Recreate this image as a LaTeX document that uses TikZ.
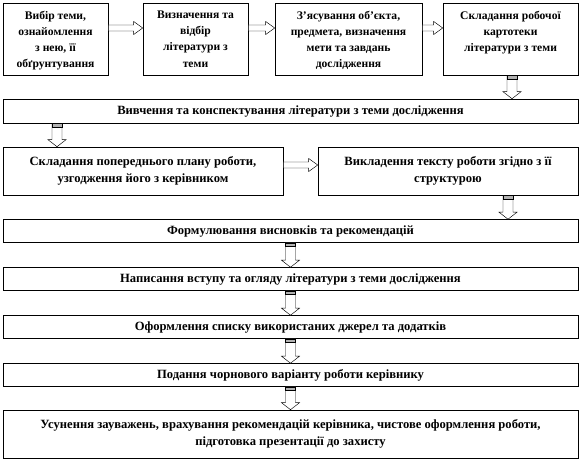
\documentclass[tikz,border=0pt]{standalone}
\usepackage{fontspec}
\setmainfont{Liberation Serif}
\usetikzlibrary{calc}
\tikzset{
  box/.style={draw=black, line width=0.6pt, fill=white, inner sep=0pt},
  txt/.style={font=\fontsize{12.6}{17}\selectfont\bfseries, align=center, inner sep=0pt},
  toptxt/.style={font=\fontsize{11.6}{16.2}\selectfont\bfseries, align=center, inner sep=0pt},
  blockarrow/.style={draw=black, line width=0.45pt, fill=white},
  capfill/.style={draw=black, line width=0.45pt, fill=gray!60},
}
\newcommand\myharrow[2]{%
  \draw[blockarrow] let \p1=(#1), \p2=(#2) in
    (\x1,\y1+3pt) -- (\x2-9pt,\y1+3pt) -- (\x2-9pt,\y1+6.5pt) -- (\x2,\y1)
    -- (\x2-9pt,\y1-6.5pt) -- (\x2-9pt,\y1-3pt) -- (\x1,\y1-3pt) -- cycle;}
\newcommand\myvarrow[2]{%
  \draw[blockarrow] let \p1=(#1), \p2=(#2) in
    (\x1-5pt,\y1) -- (\x1-5pt,\y2+7pt) -- (\x1-9pt,\y2+7pt) -- (\x1,\y2)
    -- (\x1+9pt,\y2+7pt) -- (\x1+5pt,\y2+7pt) -- (\x1+5pt,\y1) -- cycle;
  \draw[capfill] let \p1=(#1) in (\x1-5pt,\y1) rectangle (\x1+5pt,\y1-3.5pt);}
\begin{document}
\begin{tikzpicture}[x=1pt,y=-1pt]
\useasboundingbox (0,0) rectangle (580,462);
% row 1
\node[box, minimum width=105, minimum height=72] (b1) at (55.5,39) {};
\node[box, minimum width=105, minimum height=72] (b2) at (195.5,39) {};
\node[box, minimum width=147, minimum height=72] (b3) at (348.5,39) {};
\node[box, minimum width=135, minimum height=72] (b4) at (510.5,39) {};
\node[toptxt, anchor=north] (t1) at ([yshift=-8pt]b1.north) {Вибір теми,\\ознайомлення\\з нею, її\\обґрунтування};
\node[toptxt, anchor=north] (t2) at ([yshift=-8pt]b2.north) {Визначення та\\відбір\\літератури з\\теми};
\node[toptxt, anchor=north] (t3) at ([yshift=-8pt]b3.north) {З’ясування об’єкта,\\предмета, визначення\\мети та завдань\\дослідження};
\node[toptxt, anchor=north] (t4) at ([yshift=-8pt]b4.north) {Складання робочої\\картотеки\\літератури з теми};
% row 2
\node[box, txt, minimum width=575, minimum height=24] (b5) at (290.5,111) {Вивчення та конспектування літератури з теми дослідження};
% row 3
\node[box, txt, minimum width=280, minimum height=48] (b6) at (143,171) {Складання попереднього плану роботи,\\узгодження його з керівником};
\node[box, txt, minimum width=260, minimum height=48] (b7) at (448,171) {Викладення тексту роботи згідно з її\\структурою};
% lower rows
\node[box, txt, minimum width=575, minimum height=23] (b8) at (290.5,231) {Формулювання висновків та рекомендацій};
\node[box, txt, minimum width=575, minimum height=23] (b9) at (290.5,279) {Написання вступу та огляду літератури з теми дослідження};
\node[box, txt, minimum width=575, minimum height=23] (b10) at (290.5,327) {Оформлення списку використаних джерел та додатків};
\node[box, txt, minimum width=575, minimum height=23] (b11) at (290.5,375) {Подання чорнового варіанту роботи керівнику};
\node[box, txt, minimum width=575, minimum height=48] (b12) at (290.5,434) {Усунення зауважень, врахування рекомендацій керівника, чистове оформлення роботи,\\підготовка презентації до захисту};
% connectors
\myharrow{[yshift=11pt]b1.east}{[yshift=11pt]b2.west}
\myharrow{[yshift=11pt]b2.east}{[yshift=11pt]b3.west}
\myharrow{[yshift=11pt]b3.east}{[yshift=11pt]b4.west}
\myvarrow{[xshift=1.5pt]b4.south}{[xshift=1.5pt]b4.south |- b5.north}
\myvarrow{[xshift=-86pt]b6.north |- b5.south}{[xshift=-86pt]b6.north}
\myharrow{[yshift=6pt]b6.east}{[yshift=6pt]b7.west}
\myvarrow{[xshift=60pt]b7.south}{[xshift=60pt]b7.south |- b8.north}
\myvarrow{b8.south}{b9.north}
\myvarrow{b9.south}{b10.north}
\myvarrow{b10.south}{b11.north}
\myvarrow{b11.south}{b12.north}
\end{tikzpicture}
\end{document}
